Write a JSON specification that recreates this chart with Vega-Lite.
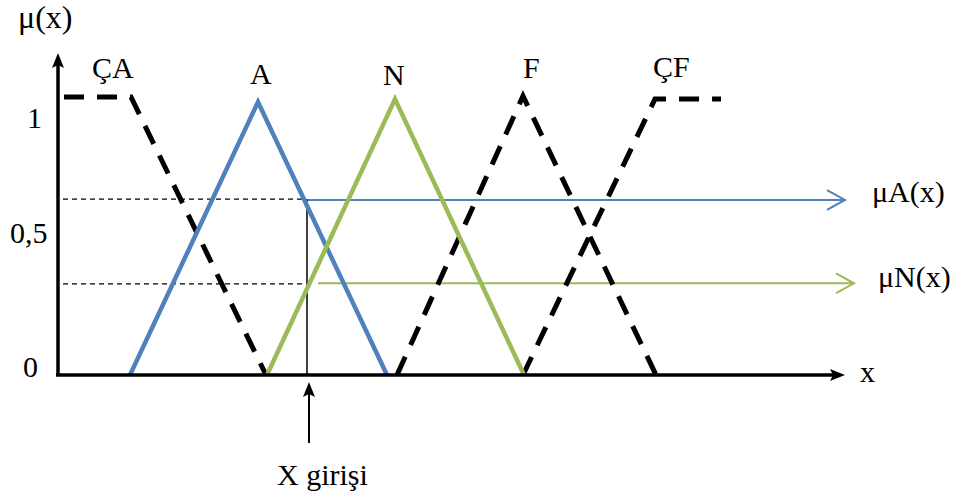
{
  "$schema": "https://vega.github.io/schema/vega-lite/v6.json",
  "width": 964,
  "height": 497,
  "autosize": {"type": "fit", "contains": "padding"},
  "padding": 0,
  "background": "white",
  "config": {"view": {"stroke": null}},
  "datasets": {
    "axes": [
      {"s": "y", "x": 58, "mu": 0, "o": 1},
      {"s": "y", "x": 58, "mu": 1.13, "o": 2},
      {"s": "x", "x": 56, "mu": 0, "o": 1},
      {"s": "x", "x": 836, "mu": 0, "o": 2}
    ],
    "dashed": [
      {"s": "ÇA", "x": 64, "mu": 1.0036, "o": 1},
      {"s": "ÇA", "x": 131, "mu": 1.0036, "o": 2},
      {"s": "ÇA", "x": 266, "mu": 0, "o": 3},
      {"s": "F", "x": 397, "mu": 0, "o": 1},
      {"s": "F", "x": 523, "mu": 1.0072, "o": 2},
      {"s": "F", "x": 656, "mu": 0, "o": 3},
      {"s": "ÇF", "x": 523, "mu": 0, "o": 1},
      {"s": "ÇF", "x": 655, "mu": 0.9964, "o": 2},
      {"s": "ÇF", "x": 721, "mu": 0.9964, "o": 3}
    ],
    "blueA": [
      {"s": "A", "x": 130, "mu": 0, "o": 1},
      {"s": "A", "x": 258, "mu": 0.9856, "o": 2},
      {"s": "A", "x": 387, "mu": 0, "o": 3}
    ],
    "greenN": [
      {"s": "N", "x": 267, "mu": 0, "o": 1},
      {"s": "N", "x": 395, "mu": 0.9964, "o": 2},
      {"s": "N", "x": 524, "mu": 0, "o": 3}
    ],
    "guides": [
      {"s": "gA", "x": 63, "mu": 0.635, "o": 1},
      {"s": "gA", "x": 305, "mu": 0.635, "o": 2},
      {"s": "gN", "x": 63, "mu": 0.329, "o": 1},
      {"s": "gN", "x": 305, "mu": 0.329, "o": 2}
    ],
    "vline": [
      {"s": "v", "x": 307, "mu": 0, "o": 1},
      {"s": "v", "x": 307, "mu": 0.635, "o": 2}
    ],
    "inArrow": [
      {"s": "in", "x": 309, "mu": -0.2455, "o": 1},
      {"s": "in", "x": 309, "mu": -0.06, "o": 2}
    ],
    "blueArrow": [
      {"s": "bA", "x": 308, "mu": 0.632, "o": 1},
      {"s": "bA", "x": 844, "mu": 0.632, "o": 2}
    ],
    "greenArrow": [
      {"s": "gN", "x": 318, "mu": 0.331, "o": 1},
      {"s": "gN", "x": 853, "mu": 0.331, "o": 2}
    ],
    "headUp": [
      {"x": 58, "mu": 1.1264},
      {"x": 309, "mu": -0.0614}
    ],
    "headRight": [
      {"x": 835, "mu": 0}
    ],
    "chevBlue": [{"x": 845, "mu": 0.632}],
    "chevGreen": [{"x": 854, "mu": 0.331}],
    "labels": [
      {"t": "ÇA", "x": 92, "mu": 1.0722},
      {"t": "A", "x": 250, "mu": 1.0505},
      {"t": "N", "x": 383, "mu": 1.0469},
      {"t": "F", "x": 523, "mu": 1.0722},
      {"t": "ÇF", "x": 653, "mu": 1.0758},
      {"t": "1", "x": 27, "mu": 0.8917},
      {"t": "0,5", "x": 10, "mu": 0.4765},
      {"t": "0", "x": 23, "mu": -0.0072},
      {"t": "x", "x": 860, "mu": -0.0253},
      {"t": "μA(x)", "x": 872, "mu": 0.6245},
      {"t": "μN(x)", "x": 878, "mu": 0.3177},
      {"t": "X girişi", "x": 277, "mu": -0.3971}
    ],
    "title": [
      {"t": "μ(x)", "x": 18, "mu": 1.2527}
    ]
  },
  "encoding": {
    "x": {"field": "x", "type": "quantitative", "scale": {"domain": [0, 964], "nice": false, "zero": false}, "axis": null},
    "y": {"field": "mu", "type": "quantitative", "scale": {"domain": [-0.4404, 1.3538], "nice": false, "zero": false}, "axis": null}
  },
  "layer": [
    {
      "data": {"name": "guides"},
      "mark": {"type": "line", "color": "black", "strokeWidth": 1.3, "strokeDash": [5, 4]},
      "encoding": {"detail": {"field": "s"}, "order": {"field": "o"}}
    },
    {
      "data": {"name": "vline"},
      "mark": {"type": "line", "color": "black", "strokeWidth": 1.5},
      "encoding": {"detail": {"field": "s"}, "order": {"field": "o"}}
    },
    {
      "data": {"name": "blueArrow"},
      "mark": {"type": "line", "color": "#4F81BD", "strokeWidth": 2},
      "encoding": {"detail": {"field": "s"}, "order": {"field": "o"}}
    },
    {
      "data": {"name": "greenArrow"},
      "mark": {"type": "line", "color": "#9BBB59", "strokeWidth": 2},
      "encoding": {"detail": {"field": "s"}, "order": {"field": "o"}}
    },
    {
      "data": {"name": "dashed"},
      "mark": {"type": "line", "color": "black", "strokeWidth": 5, "strokeDash": [20, 13]},
      "encoding": {"detail": {"field": "s"}, "order": {"field": "o"}}
    },
    {
      "data": {"name": "blueA"},
      "mark": {"type": "line", "color": "#4F81BD", "strokeWidth": 4.5},
      "encoding": {"detail": {"field": "s"}, "order": {"field": "o"}}
    },
    {
      "data": {"name": "greenN"},
      "mark": {"type": "line", "color": "#9BBB59", "strokeWidth": 4.5},
      "encoding": {"detail": {"field": "s"}, "order": {"field": "o"}}
    },
    {
      "data": {"name": "axes"},
      "mark": {"type": "line", "color": "black", "strokeWidth": 3.5},
      "encoding": {"detail": {"field": "s"}, "order": {"field": "o"}}
    },
    {
      "data": {"name": "inArrow"},
      "mark": {"type": "line", "color": "black", "strokeWidth": 2},
      "encoding": {"detail": {"field": "s"}, "order": {"field": "o"}}
    },
    {
      "data": {"name": "headUp"},
      "mark": {"type": "point", "filled": true, "color": "black", "opacity": 1, "size": 400, "shape": "M0,-1L0.6,0.5L0,0.2L-0.6,0.5Z"}
    },
    {
      "data": {"name": "headRight"},
      "mark": {"type": "point", "filled": true, "color": "black", "opacity": 1, "size": 400, "shape": "M1,0L-0.5,-0.6L-0.2,0L-0.5,0.6Z"}
    },
    {
      "data": {"name": "chevBlue"},
      "mark": {"type": "point", "filled": false, "color": "#4F81BD", "opacity": 1, "strokeWidth": 2, "size": 1296, "shape": "M-1,-0.55L0,0L-1,0.55"}
    },
    {
      "data": {"name": "chevGreen"},
      "mark": {"type": "point", "filled": false, "color": "#9BBB59", "opacity": 1, "strokeWidth": 2, "size": 1296, "shape": "M-1,-0.55L0,0L-1,0.55"}
    },
    {
      "data": {"name": "labels"},
      "mark": {"type": "text", "align": "left", "baseline": "alphabetic", "font": "Times New Roman", "fontSize": 30, "color": "black"},
      "encoding": {"text": {"field": "t"}}
    },
    {
      "data": {"name": "title"},
      "mark": {"type": "text", "align": "left", "baseline": "alphabetic", "font": "Times New Roman", "fontSize": 32, "color": "black"},
      "encoding": {"text": {"field": "t"}}
    }
  ]
}
